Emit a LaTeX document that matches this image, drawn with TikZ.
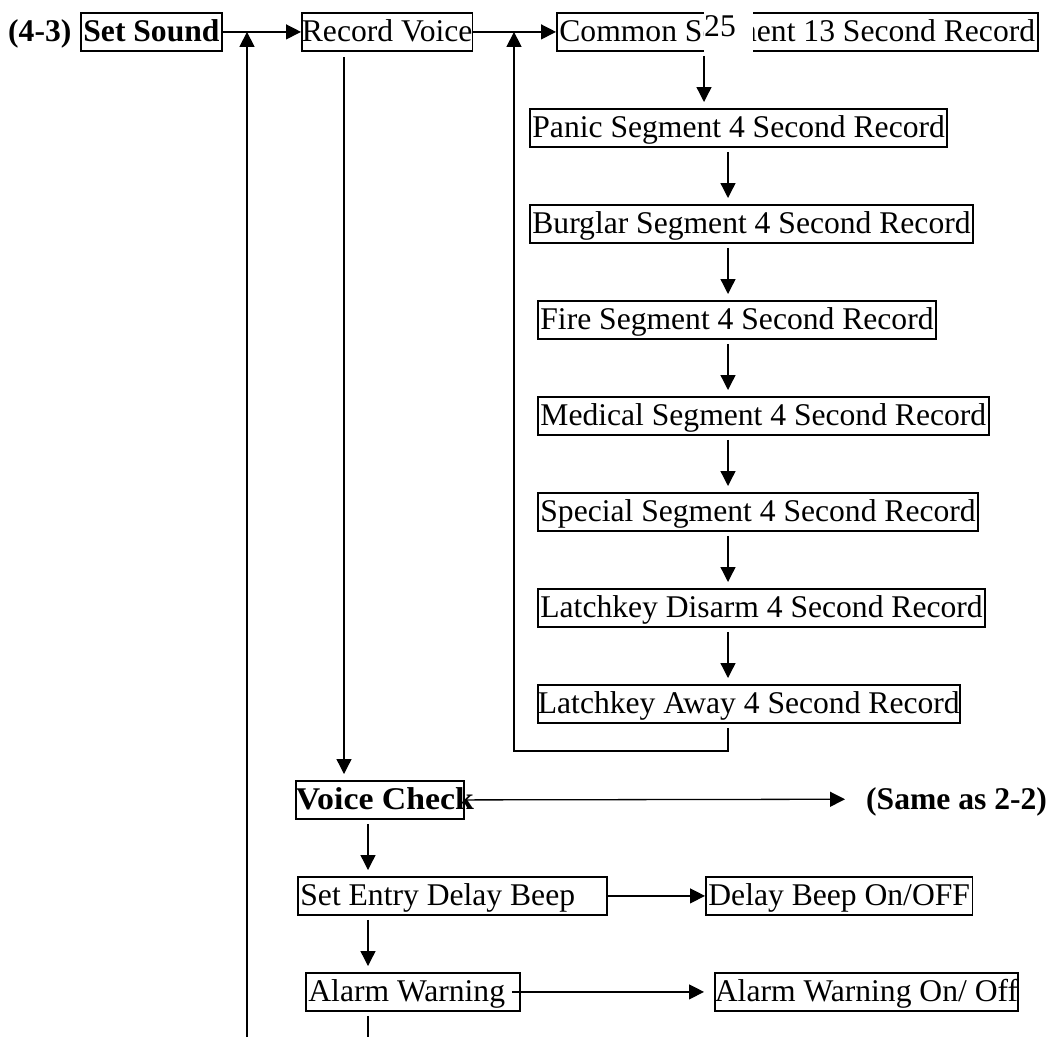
\documentclass[tikz,border=0pt]{standalone}
\usepackage{fontspec}
\setmainfont{Liberation Serif}
\usetikzlibrary{arrows.meta}

\begin{document}
\begin{tikzpicture}[x=1pt, y=-1pt,
    font=\fontsize{31.6pt}{38pt}\selectfont,
    box/.style={draw, line width=1.8pt, inner xsep=2.5pt, inner ysep=0pt,
                text height=29pt, text depth=9pt, anchor=north west},
    tight/.style={inner xsep=0pt},
    wide/.style={text width=#1, align=flush left},
    label/.style={inner sep=0pt, text height=29pt, text depth=9pt, anchor=north west},
    arr/.style={line width=1.3pt, -{Triangle[length=15pt, width=15pt]}},
    link/.style={line width=1.3pt}]
    \useasboundingbox (0,0) rectangle (1051,1037);

    % columns of the connectors
    \coordinate (colA) at (704,0);
    \coordinate (colB) at (728,0);
    \coordinate (colC) at (344,0);
    \coordinate (colD) at (368,0);
    \coordinate (colE) at (514,0);
    \coordinate (bot1) at (247,1037);
    \coordinate (bot2) at (368,1037);
    \coordinate (ret) at (514,751);

    % top row
    \node[label] (title) at (8,12) {\textbf{(4-3)}};
    \node[box] (ss) at (80,12) {\textbf{Set Sound}};
    \node[box, tight] (rv) at (301,12) {Record Voice};
    \node[box] (cs) at (556,12) {Common Segment 13 Second Record};
    \node[fill=white, inner sep=0pt, anchor=north west, text width=49pt,
          text height=36pt, text depth=17pt, align=flush left] (pg) at (704,0) {25};

    % record column
    \node[box] (pa) at (529,108) {Panic Segment 4 Second Record};
    \node[box] (bu) at (529,204) {Burglar Segment 4 Second Record};
    \node[box] (fi) at (537,300) {Fire Segment 4 Second Record};
    \node[box] (me) at (537,396) {Medical Segment 4 Second Record};
    \node[box] (sp) at (537,492) {Special Segment 4 Second Record};
    \node[box] (ld) at (537,588) {Latchkey Disarm 4 Second Record};
    \node[box, tight] (la) at (537,684) {Latchkey Away 4 Second Record};

    % lower part
    \node[box, tight, wide=168pt] (vc) at (295,780) {\scalebox{1.07}[1]{\textbf{Voice Check}}};
    \node[label] (same) at (866,780) {\textbf{(Same as 2-2)}};
    \node[box, wide=304pt] (se) at (297,876) {Set Entry Delay Beep};
    \node[box] (db) at (705,876) {Delay Beep On/OFF};
    \node[box, wide=209pt] (aw) at (305,972) {Alarm Warning};
    \node[box, tight] (ao) at (714,972) {Alarm Warning On/ Off};

    % draw connectors
    \draw[arr] (ss.east) -- (rv.west);
    \draw[arr] (rv.east) -- (cs.west);
    \draw[arr] (bot1) -- (bot1 |- ss.east);
    \draw[arr, shorten <=5pt, shorten >=6pt] (rv.south -| colC) -- (vc.north -| colC);

    \draw[arr, shorten <=4pt, shorten >=6pt] (cs.south -| colA) -- (pa.north -| colA);
    \draw[arr, shorten <=4pt, shorten >=6pt] (pa.south -| colB) -- (bu.north -| colB);
    \draw[arr, shorten <=4pt, shorten >=6pt] (bu.south -| colB) -- (fi.north -| colB);
    \draw[arr, shorten <=4pt, shorten >=6pt] (fi.south -| colB) -- (me.north -| colB);
    \draw[arr, shorten <=4pt, shorten >=6pt] (me.south -| colB) -- (sp.north -| colB);
    \draw[arr, shorten <=4pt, shorten >=6pt] (sp.south -| colB) -- (ld.north -| colB);
    \draw[arr, shorten <=4pt, shorten >=6pt] (ld.south -| colB) -- (la.north -| colB);
    \draw[arr, shorten <=4pt] (la.south -| colB) |- (ret) -- (ret |- rv.east);

    \draw[arr, shorten >=21pt] (vc.east) -- (same.west);
    \draw[arr, shorten <=4pt, shorten >=6pt] (vc.south -| colD) -- (se.north -| colD);
    \draw[arr] (se.east) -- (db.west);
    \draw[arr, shorten <=4pt, shorten >=6pt] (se.south -| colD) -- (aw.north -| colD);
    \draw[arr, shorten <=-9pt, shorten >=10pt] (aw.east) -- (ao.west);
    \draw[link, shorten <=4pt] (aw.south -| colD) -- (bot2);
\end{tikzpicture}
\end{document}
